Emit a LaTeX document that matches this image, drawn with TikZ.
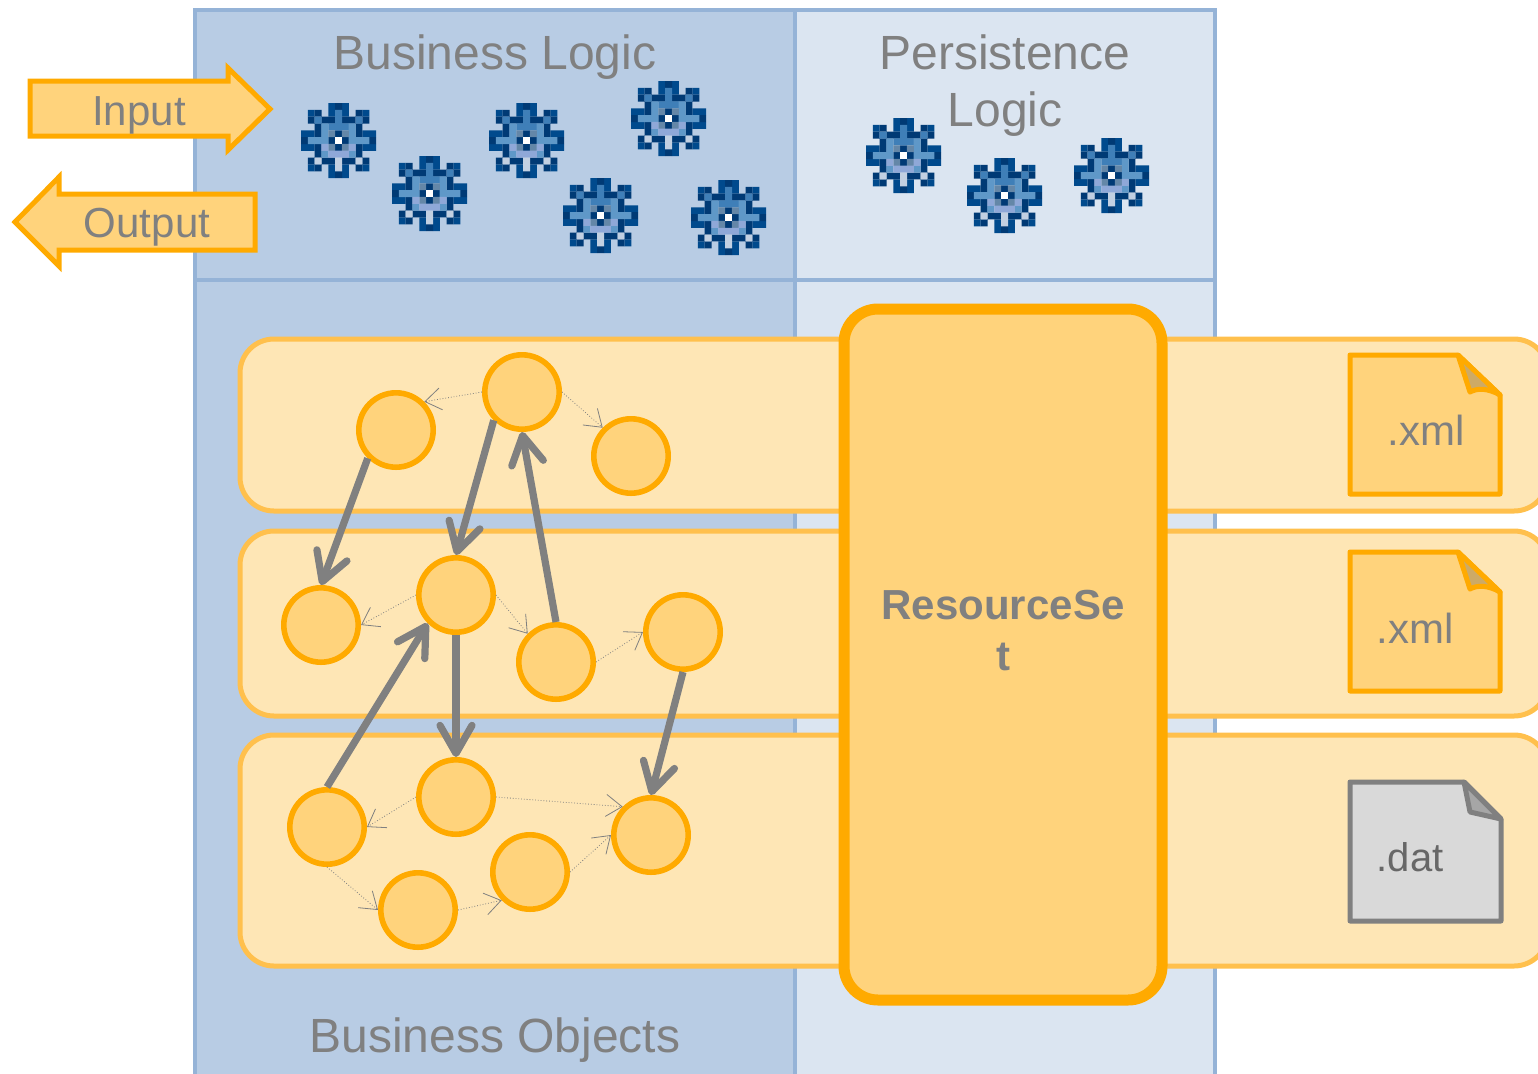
\documentclass[tikz,border=0pt]{standalone}
\usepackage{fontspec}
\setmainfont{Liberation Sans}
\usetikzlibrary{arrows.meta}
\definecolor{panelA}{HTML}{B8CCE4}
\definecolor{panelB}{HTML}{DBE5F1}
\definecolor{panelLine}{HTML}{95B3D7}
\definecolor{bandFill}{HTML}{FEE6B5}
\definecolor{bandLine}{HTML}{FFC04D}
\definecolor{orgFill}{HTML}{FFD37C}
\definecolor{orgLine}{HTML}{FFAA00}
\definecolor{txt}{HTML}{808080}
\definecolor{foldTan}{HTML}{CDAA66}
\definecolor{docGray}{HTML}{D9D9D9}
\definecolor{foldGray}{HTML}{A6A6A6}
\definecolor{gA}{HTML}{004A8D}
\definecolor{gB}{HTML}{003A75}
\definecolor{gC}{HTML}{3F7FB8}
\definecolor{gD}{HTML}{5F98C8}
\definecolor{gE}{HTML}{6487A8}
\definecolor{gF}{HTML}{8FA8D8}
\definecolor{gG}{HTML}{C2D0E2}
\tikzset{
  panel/.style={draw=panelLine,line width=2.3pt},
  band/.style={draw=bandLine,fill=bandFill,line width=2.5pt,rounded corners=17pt},
  blob/.style={circle,draw=orgLine,fill=orgFill,line width=2.8pt,minimum size=37.2pt,inner sep=0pt},
  heavy/.style={draw=txt,line width=3.6pt,-{Straight Barb[length=14pt,width=16pt,line width=3.6pt,round]}},
  light/.style={draw=txt,line width=.4pt,densely dotted,-{Straight Barb[length=8pt,width=11pt,line width=.4pt]}},
  title/.style={text=txt,font=\fontsize{24}{29}\selectfont,align=center},
  small/.style={text=txt,font=\fontsize{21}{25}\selectfont},
  block/.style={draw=orgLine,fill=orgFill,line width=2.5pt,line join=miter},
  docu/.style={line width=2.5pt,line join=round},
  gear/.pic={
    \fill[gA] \foreach \c/\r in {4/0,6/0,1/1,4/1,6/1,9/1,0/4,1/4,9/4,10/4,0/6,1/6,9/6,10/6,1/9,4/9,6/9,9/9,4/10,6/10}{(\c*6.82,\r*6.82) rectangle ++(6.9,6.9)};
    \fill[gB] \foreach \c/\r in {5/0,2/1,8/1,1/2,3/2,4/2,6/2,7/2,9/2,2/3,8/3,2/4,5/4,8/4,0/5,4/5,6/5,10/5,2/6,5/6,8/6,2/7,8/7,1/8,3/8,4/8,6/8,7/8,9/8,2/9,8/9,5/10}{(\c*6.82,\r*6.82) rectangle ++(6.9,6.9)};
    \fill[gC] \foreach \c/\r in {5/1,2/2,5/2,8/2,4/3,5/3,6/3}{(\c*6.82,\r*6.82) rectangle ++(6.9,6.9)};
    \fill[gD] \foreach \c/\r in {3/3,7/3,3/4,7/4,1/5,2/5,3/5,7/5,8/5,9/5,3/7,7/7}{(\c*6.82,\r*6.82) rectangle ++(6.9,6.9)};
    \fill[gE] \foreach \c/\r in {4/4,6/4,4/6,6/6}{(\c*6.82,\r*6.82) rectangle ++(6.9,6.9)};
    \fill[gF] \foreach \c/\r in {3/6,7/6,4/7,5/7,6/7}{(\c*6.82,\r*6.82) rectangle ++(6.9,6.9)};
    \fill[gG] \foreach \c/\r in {2/8,5/8,8/8,5/9}{(\c*6.82,\r*6.82) rectangle ++(6.9,6.9)};
    \fill[white] (5*6.82,5*6.82) rectangle ++(6.9,6.9);
  }
}
\begin{document}
\begin{tikzpicture}[x=0.5pt,y=-0.5pt]
\useasboundingbox (0,0) rectangle (1538,1073);
\clip (0,0) rectangle (1538,1073);
% panels
\path[panel,fill=panelA] (195,280) rectangle (795,1095);
\path[panel,fill=panelB] (795,280) rectangle (1215,1095);
\path[panel,fill=panelA] (195,10) rectangle (795,280);
\path[panel,fill=panelB] (795,10) rectangle (1215,280);
% titles
\node[title] (tBL) at (495,57) {Business Logic};
\node[title] (tPLa) at (1005,52) {Persistence};
\node[title] (tPLb) at (1005,114) {Logic};
\node[title] (tBO) at (495,1040) {Business Objects};
% gears
\foreach \x/\y in {301/103,392/156,489/103,563/178,631/81,691/180,866/118,967/158,1074/138}
  \pic at (\x,\y) {gear};
% input/output arrows
\path[block] (30,81) -- (228,81) -- (228,68) -- (270,109) -- (228,150) -- (228,136) -- (30,136) -- cycle;
\node[small] (in) at (139,115) {Input};
\path[block] (255,194) -- (59,194) -- (59,177) -- (15,222) -- (59,266) -- (59,250) -- (255,250) -- cycle;
\node[small] (out) at (147,227) {Output};
% bands
\path[band] (240,339) rectangle (1548,511);
\path[band] (240,531) rectangle (1548,716);
\path[band] (240,735) rectangle (1548,966);
% resource set
\node[draw=orgLine,fill=orgFill,line width=5.5pt,rounded corners=17pt,minimum width=159pt,minimum height=345.5pt,inner sep=0pt,outer sep=0pt] (rs) at (1003,654.5) {};
\node[text=txt,font=\fontsize{21}{25.5}\selectfont\bfseries,align=center] (rst) at (1003,631) {ResourceSe\\t};
% documents
\path[docu,draw=orgLine,fill=orgFill] (1350,355) -- (1458,355) -- (1500,395) -- (1500,494) -- (1350,494) -- cycle;
\path[docu,draw=orgLine,fill=foldTan] (1458,355) -- (1500,395) .. controls (1488,388) and (1477,388) .. (1470,392) -- cycle;
\node[small] (d1) at (1426,430) {.xml};
\path[docu,draw=orgLine,fill=orgFill] (1350,552) -- (1458,552) -- (1500,592) -- (1500,691) -- (1350,691) -- cycle;
\path[docu,draw=orgLine,fill=foldTan] (1458,552) -- (1500,592) .. controls (1488,585) and (1477,585) .. (1470,589) -- cycle;
\node[small] (d2) at (1415,628) {.xml};
\path[docu,draw=txt,fill=docGray] (1350,782) -- (1464,782) -- (1501,819) -- (1501,921) -- (1350,921) -- cycle;
\path[docu,draw=txt,fill=foldGray] (1464,782) -- (1501,819) -- (1470,812) -- cycle;
\node[text=txt!80!black,font=\fontsize{20}{24}\selectfont] (d3) at (1410,857) {.dat};
% circles
\node[blob] (c1) at (396,430) {};
\node[blob] (c2) at (522,392) {};
\node[blob] (c3) at (631,456) {};
\node[blob] (c4) at (321,625) {};
\node[blob] (c5) at (456,595) {};
\node[blob] (c6) at (556,662) {};
\node[blob] (c7) at (683,632) {};
\node[blob] (c8) at (327,827) {};
\node[blob] (c9) at (456,797) {};
\node[blob] (c10) at (530,872) {};
\node[blob] (c11) at (651,835) {};
\node[blob] (c12) at (418,910) {};
% thin connectors
\draw[light] (c2.west) -- (c1.north east);
\draw[light] (c2.east) -- (c3.north west);
\draw[light] (c5.west) -- (c4.east);
\draw[light] (c5.east) -- (c6.north west);
\draw[light] (c6.east) -- (c7.west);
\draw[light] (c9.west) -- (c8.east);
\draw[light] (c9.east) -- (c11.north west);
\draw[light] (c8.south) -- (c12.west);
\draw[light] (c12.east) -- (c10.south west);
\draw[light] (c10.east) -- (c11.west);
% thick connectors
\draw[heavy] (c1.south west) -- (c4.north);
\draw[heavy] (c2.south west) -- (c5.north);
\draw[heavy] (c6.north) -- (c2.south);
\draw[heavy] (c8.north) -- (c5.south west);
\draw[heavy] (c5.south) -- (c9.north);
\draw[heavy] (c7.south) -- (c11.north);
\end{tikzpicture}
\end{document}
